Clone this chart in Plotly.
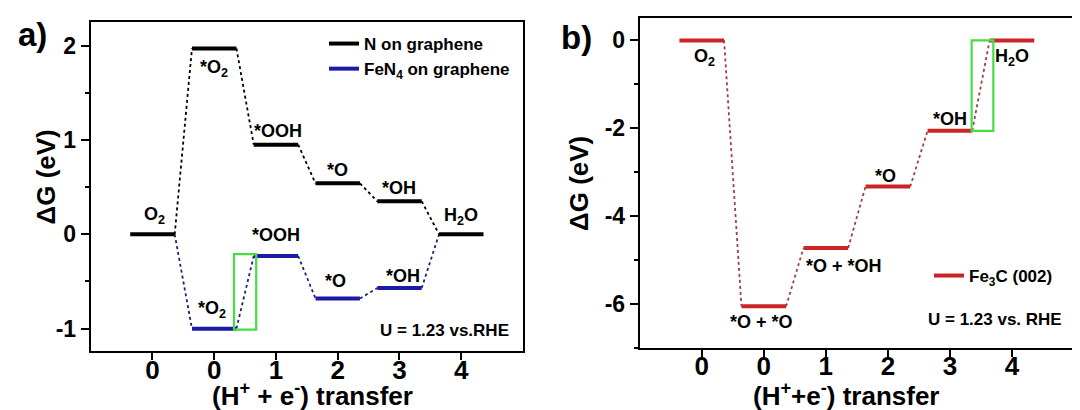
import plotly.graph_objects as go

# ---------------- data ----------------
steps = ["O2", "*O2", "*OOH", "*O", "*OH", "H2O"]
step_tick_labels = ["0", "0", "1", "2", "3", "4"]

# panel a
n_graphene = [0.0, 1.97, 0.95, 0.54, 0.35, 0.0]
fen4_graphene = [0.0, -1.0, -0.23, -0.68, -0.57, 0.0]
ya_tickvals = [-1, 0, 1, 2]
ya_ticktext = ["-1", "0", "1", "2"]

# panel b
fe3c_002 = [0.0, -6.06, -4.73, -3.33, -2.06, 0.0]
yb_tickvals = [-6, -4, -2, 0]
yb_ticktext = ["-6", "-4", "-2", "0"]

# labels: (text, step position, y)
labels_a = [
    ("O<sub>2</sub>", 0.03, 0.20),
    ("*O<sub>2</sub>", 1.0, 1.76),
    ("*OOH", 2.03, 1.10),
    ("*O", 3.0, 0.68),
    ("*OH", 4.0, 0.49),
    ("H<sub>2</sub>O", 5.0, 0.19),
    ("*OOH", 2.0, -0.01),
    ("*O<sub>2</sub>", 0.97, -0.80),
    ("*O", 2.97, -0.50),
    ("*OH", 4.05, -0.44),
]
labels_b = [
    ("O<sub>2</sub>", 0.05, -0.40),
    ("*O + *O", 0.96, -6.42),
    ("*O + *OH", 2.3, -5.14),
    ("*O", 2.96, -3.1),
    ("*OH", 4.0, -1.8),
    ("H<sub>2</sub>O", 5.0, -0.40),
]

HALF = 0.36
FONT = "Liberation Sans"

BLACK = "#000000"
BLUE = "#1a1aa6"
BLUE_DOT = "#22226e"
RED = "#cc2424"
RED_DOT = "#a04040"
GREEN = "#44dd44"

W, H = 1080, 410


def level_xy(vals, idx):
    xs, ys = [], []
    for i in idx:
        xs += [i - HALF, i + HALF, None]
        ys += [vals[i], vals[i], None]
    return xs, ys


def conn_xy(vals):
    xs, ys = [], []
    for i in range(len(vals) - 1):
        xs += [i + HALF, i + 1 - HALF, None]
        ys += [vals[i], vals[i + 1], None]
    return xs, ys


fig = go.Figure()

# ---- panel a ----
cx, cy = conn_xy(fen4_graphene)
fig.add_trace(go.Scatter(x=cx, y=cy, mode="lines", xaxis="x", yaxis="y",
                         line=dict(color=BLUE_DOT, width=1.8, dash="dot"),
                         showlegend=False, hoverinfo="skip"))
cx, cy = conn_xy(n_graphene)
fig.add_trace(go.Scatter(x=cx, y=cy, mode="lines", xaxis="x", yaxis="y",
                         line=dict(color=BLACK, width=1.8, dash="dot"),
                         showlegend=False, hoverinfo="skip"))
lx, ly = level_xy(n_graphene, range(6))
fig.add_trace(go.Scatter(x=lx, y=ly, mode="lines", xaxis="x", yaxis="y",
                         line=dict(color=BLACK, width=4),
                         name="N on graphene", legend="legend"))
lx, ly = level_xy(fen4_graphene, range(1, 5))
fig.add_trace(go.Scatter(x=lx, y=ly, mode="lines", xaxis="x", yaxis="y",
                         line=dict(color=BLUE, width=4),
                         name="FeN<sub>4</sub> on graphene", legend="legend"))

# ---- panel b ----
cx, cy = conn_xy(fe3c_002)
fig.add_trace(go.Scatter(x=cx, y=cy, mode="lines", xaxis="x2", yaxis="y2",
                         line=dict(color=RED_DOT, width=1.8, dash="dot"),
                         showlegend=False, hoverinfo="skip"))
lx, ly = level_xy(fe3c_002, range(6))
fig.add_trace(go.Scatter(x=lx, y=ly, mode="lines", xaxis="x2", yaxis="y2",
                         line=dict(color=RED, width=4),
                         name="Fe<sub>3</sub>C (002)", legend="legend2"))

# green highlight boxes (rate-limiting steps)
fig.add_shape(type="rect", xref="x", yref="y",
              x0=1 + 0.32, x1=2 - 0.32,
              y0=fen4_graphene[1] - 0.01, y1=fen4_graphene[2] + 0.02,
              line=dict(color=GREEN, width=2.2), fillcolor="rgba(0,0,0,0)")
fig.add_shape(type="rect", xref="x2", yref="y2",
              x0=4 + 0.35, x1=5 - 0.3,
              y0=fe3c_002[4], y1=fe3c_002[5],
              line=dict(color=GREEN, width=2.2), fillcolor="rgba(0,0,0,0)")

bold = dict(family=FONT, color="black", weight="bold")


def px_ann(text, x, y, size, xanchor="center", yanchor="middle", angle=0):
    return dict(text=text, x=x / W, y=1 - y / H, xref="paper", yref="paper",
                xanchor=xanchor, yanchor=yanchor, showarrow=False, textangle=angle,
                font=dict(size=size, **bold))


annotations = []
for t, x, y in labels_a:
    annotations.append(dict(text=t, x=x, y=y, xref="x", yref="y", showarrow=False,
                            font=dict(size=18, **bold)))
for t, x, y in labels_b:
    annotations.append(dict(text=t, x=x, y=y, xref="x2", yref="y2", showarrow=False,
                            font=dict(size=18, **bold)))
annotations += [
    px_ann("U = 1.23 vs.RHE", 503, 322, 17, xanchor="right"),
    px_ann("U = 1.23 vs. RHE", 1056, 311, 17, xanchor="right"),
    px_ann("a)", 24, 26, 33),
    px_ann("b)", 568, 30, 33),
    px_ann("ΔG (eV)", 37.5, 169, 26, angle=-90),
    px_ann("ΔG (eV)", 571, 176, 26, angle=-90),
    px_ann("(H<sup>+</sup> + e<sup>-</sup>) transfer", 304, 368, 26, yanchor="top"),
    px_ann("(H<sup>+</sup>+e<sup>-</sup>) transfer", 838, 368, 26, yanchor="top"),
]

common_x = dict(range=[-1, 6], tickmode="array", tickvals=list(range(len(steps))),
                ticktext=step_tick_labels, ticks="outside", ticklen=7, tickwidth=2,
                tickcolor="black", showline=True, linewidth=2, linecolor="black",
                mirror=True, showgrid=False, zeroline=False, ticklabelstandoff=-13,
                tickfont=dict(size=26, **bold), automargin=False)
common_y = dict(ticks="outside", ticklen=8, tickwidth=2, tickcolor="black",
                showline=True, linewidth=2, linecolor="black", mirror=True,
                showgrid=False, zeroline=False, tickmode="array",
                tickfont=dict(size=23, **bold), automargin=False)

fig.update_layout(
    width=W, height=H, margin=dict(l=0, r=0, t=0, b=0),
    paper_bgcolor="white", plot_bgcolor="white",
    xaxis=dict(domain=[82.7 / W, 515 / W], anchor="y", **common_x),
    yaxis=dict(domain=[66.7 / H, 396 / H], anchor="x", range=[-1.24, 2.25],
               tickvals=ya_tickvals, ticktext=ya_ticktext,
               minor=dict(tickvals=[-0.5, 0.5, 1.5], ticks="outside", ticklen=4,
                          tickwidth=2, tickcolor="black"),
               **common_y),
    xaxis2=dict(domain=[631.7 / W, 1066 / W], anchor="y2", **common_x),
    yaxis2=dict(domain=[70 / H, 400 / H], anchor="x2", range=[-7.01, 0.51],
                tickvals=yb_tickvals, ticktext=yb_ticktext,
                minor=dict(tickvals=[-7, -5, -3, -1], ticks="outside", ticklen=4,
                           tickwidth=2, tickcolor="black"),
                **common_y),
    legend=dict(x=316 / W, y=1 - 18 / H, xanchor="left", yanchor="top",
                bgcolor="rgba(0,0,0,0)", borderwidth=0, tracegroupgap=0,
                font=dict(size=17, **bold)),
    legend2=dict(x=921 / W, y=1 - 250 / H, xanchor="left", yanchor="top",
                 bgcolor="rgba(0,0,0,0)", borderwidth=0,
                 font=dict(size=17, **bold)),
    annotations=annotations,
    showlegend=True,
)

fig.write_html("out.html")
